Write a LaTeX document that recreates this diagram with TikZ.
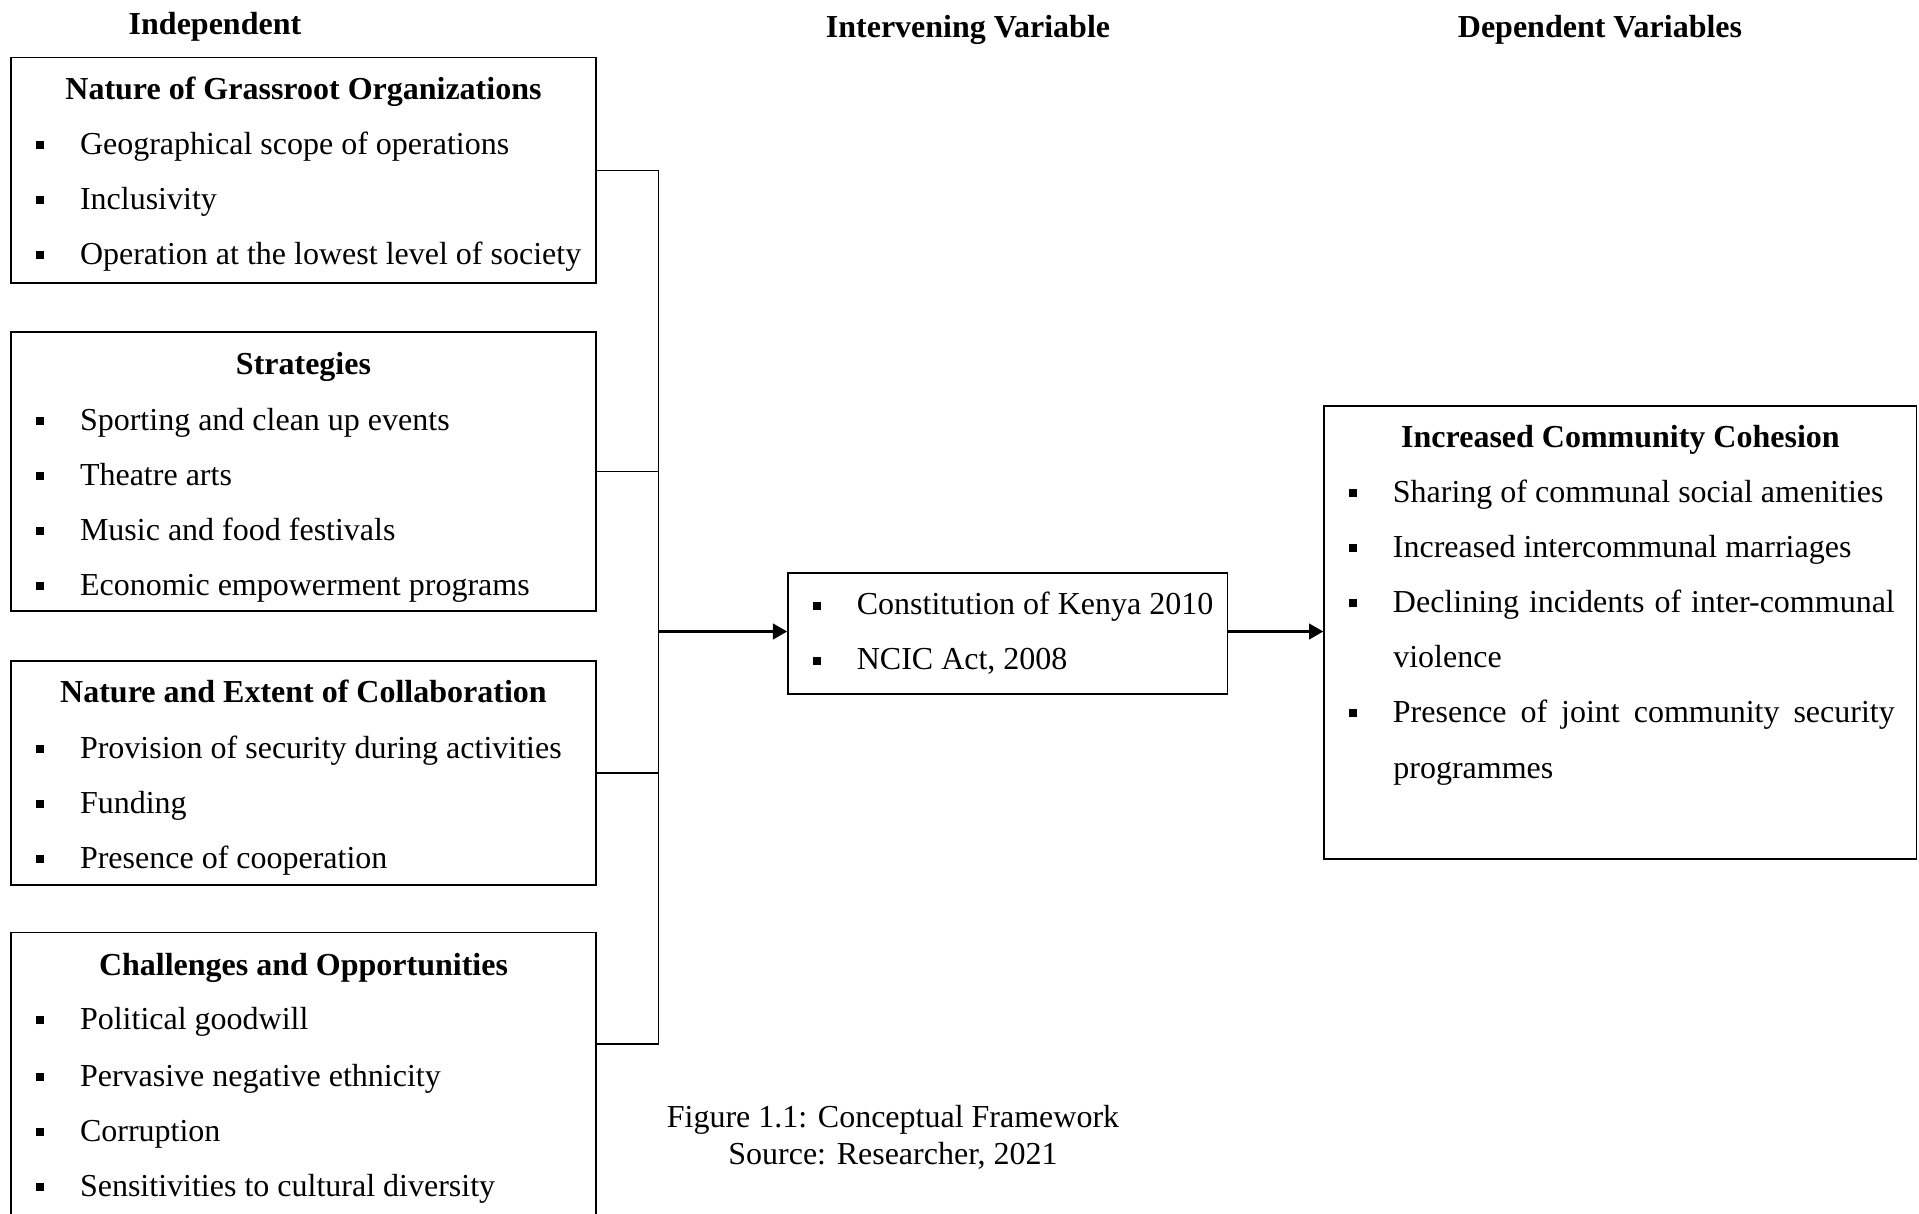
\documentclass[tikz,border=0pt]{standalone}
\usepackage{fontspec}
\setmainfont{Liberation Serif}
\usetikzlibrary{arrows.meta,fit}
\newcommand{\sqbullet}{\makebox[16.5pt][l]{\rule[2pt]{3pt}{3pt}}}

\begin{document}
\begin{tikzpicture}[x=0.375pt, y=-0.375pt,
    every node/.style={font=\fontsize{12pt}{13.9pt}\selectfont},
    box/.style={draw, line width=0.65pt, inner sep=0pt},
    entry/.style={anchor=west, inner sep=0pt, text height=10pt, text depth=1.4pt},
    boxtitle/.style={inner sep=0pt, text height=10pt, text depth=1.4pt, font=\fontsize{12pt}{13.9pt}\selectfont\bfseries},
    heading/.style={boxtitle},
    wire/.style={line width=0.45pt},
    flow/.style={line width=1.3pt, -{Triangle[length=5.4pt,width=5.7pt]}}]
        \useasboundingbox (0,0) rectangle (1919,1214);

        % column headings
        \node[heading] (indep) at (215,23) {Independent};
        \node[heading] (interv) at (968,26) {Intervening Variable};
        \node[heading] (dep) at (1600,26) {Dependent Variables};

        % independent variables
        \node[box, fit={(11,57.5) (596,283)}] (org) {};
        \node[boxtitle] (orgt) at (303.5,88) {Nature of Grassroot Organizations};
        \node[entry] (org1) at (35.5,143) {\sqbullet Geographical scope of operations};
        \node[entry] (org2) at (35.5,198) {\sqbullet Inclusivity};
        \node[entry] (org3) at (35.5,253) {\sqbullet Operation at the lowest level of society};

        \node[box, fit={(11,331.7) (596,610.7)}] (strat) {};
        \node[boxtitle] (stratt) at (303.5,363.5) {Strategies};
        \node[entry] (strat1) at (35.5,418.6) {\sqbullet Sporting and clean up events};
        \node[entry] (strat2) at (35.5,473.6) {\sqbullet Theatre arts};
        \node[entry] (strat3) at (35.5,528.7) {\sqbullet Music and food festivals};
        \node[entry] (strat4) at (35.5,583.8) {\sqbullet Economic empowerment programs};

        \node[box, fit={(11,660.9) (596,884.9)}] (collab) {};
        \node[boxtitle] (collabt) at (303.5,691.5) {Nature and Extent of Collaboration};
        \node[entry] (collab1) at (35.5,746.6) {\sqbullet Provision of security during activities};
        \node[entry] (collab2) at (35.5,801.7) {\sqbullet Funding};
        \node[entry] (collab3) at (35.5,856.7) {\sqbullet Presence of cooperation};

        \node[box, fit={(11,932.6) (596,1240)}] (chal) {};
        \node[boxtitle] (chalt) at (303.5,964.4) {Challenges and Opportunities};
        \node[entry] (chal1) at (35.5,1018.3) {\sqbullet Political goodwill};
        \node[entry] (chal2) at (35.5,1074.6) {\sqbullet Pervasive negative ethnicity};
        \node[entry] (chal3) at (35.5,1129.7) {\sqbullet Corruption};
        \node[entry] (chal4) at (35.5,1184.7) {\sqbullet Sensitivities to cultural diversity};

        % intervening variable
        \node[box, fit={(788.2,572.8) (1227.6,694)}] (mid) {};
        \node[entry] (mid1) at (812.3,603.4) {\sqbullet Constitution of Kenya 2010};
        \node[entry] (mid2) at (812.3,658.5) {\sqbullet NCIC Act, 2008};

        % dependent variable
        \node[box, fit={(1324.3,406.3) (1916.6,859.2)}] (cohesion) {};
        \node[boxtitle] (cohesiont) at (1620.5,435.7) {Increased Community Cohesion};
        \node[entry] (coh1) at (1348.4,490.8) {\sqbullet Sharing of communal social amenities};
        \node[entry] (coh2) at (1348.4,545.9) {\sqbullet Increased intercommunal marriages};
        \node[entry] (coh3) at (1348.4,601) {\sqbullet\makebox[188.2pt][s]{Declining incidents of inter-communal}};
        \node[entry] (coh3b) at (1392.8,656) {violence};
        \node[entry] (coh4) at (1348.4,711.1) {\sqbullet\makebox[188.2pt][s]{Presence of joint community security}};
        \node[entry] (coh4b) at (1392.8,767.4) {programmes};

        % connectors
        \coordinate (bus) at (658.5,631.5);
        \coordinate (t4) at (658.5,1044);
        \draw[wire] (org.east) -- (org.east -| bus);
        \draw[wire] (strat.east) -- (strat.east -| bus);
        \draw[wire] (collab.east) -- (collab.east -| bus);
        \draw[wire] (t4 -| chal.east) -- (t4);
        \draw[wire] (org.east -| bus) -- (t4);
        \draw[flow] (bus) -- (bus -| mid.west);
        \draw[flow] (bus -| mid.east) -- (bus -| cohesion.west);

        \node[align=center] (caption) at (893,1137) {Figure 1.1: Conceptual Framework\\Source: Researcher, 2021};
\end{tikzpicture}
\end{document}
